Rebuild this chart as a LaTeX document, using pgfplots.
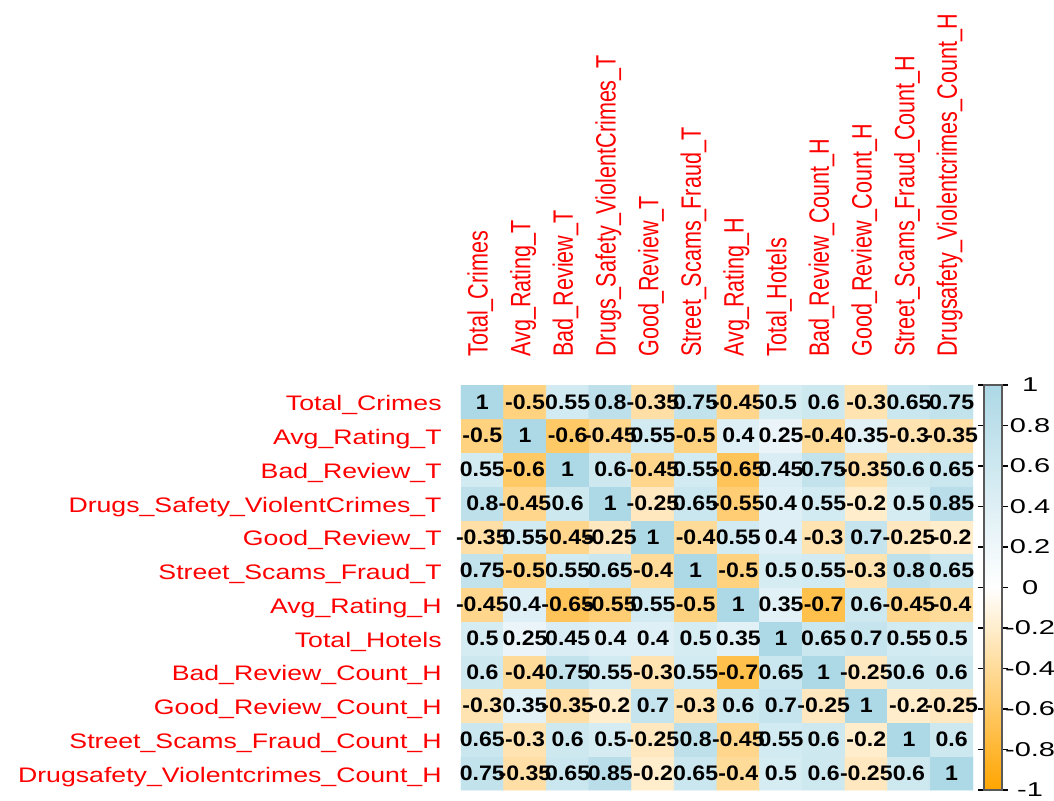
\documentclass[border=0pt]{standalone}
\usepackage{fontspec}
\usepackage{pgfplots}
\usepackage{pgfplotstable}
\pgfplotsset{compat=1.18}
\setmainfont{Liberation Sans}
\newfontfamily\rowfont[FakeStretch=1.27]{Liberation Sans}
\newfontfamily\colfont[FakeStretch=0.77]{Liberation Sans}
\newfontfamily\cellfont[FakeStretch=1.1]{Liberation Sans}
\newfontfamily\barfont[FakeStretch=1.45]{Liberation Sans}

% correlation matrix: x = column, y = 11 - row (Total_Crimes on top)
\pgfplotstableread{
x y c
0 0 0.75
1 0 -0.35
2 0 0.65
3 0 0.85
4 0 -0.2
5 0 0.65
6 0 -0.4
7 0 0.5
8 0 0.6
9 0 -0.25
10 0 0.6
11 0 1
0 1 0.65
1 1 -0.3
2 1 0.6
3 1 0.5
4 1 -0.25
5 1 0.8
6 1 -0.45
7 1 0.55
8 1 0.6
9 1 -0.2
10 1 1
11 1 0.6
0 2 -0.3
1 2 0.35
2 2 -0.35
3 2 -0.2
4 2 0.7
5 2 -0.3
6 2 0.6
7 2 0.7
8 2 -0.25
9 2 1
10 2 -0.2
11 2 -0.25
0 3 0.6
1 3 -0.4
2 3 0.75
3 3 0.55
4 3 -0.3
5 3 0.55
6 3 -0.7
7 3 0.65
8 3 1
9 3 -0.25
10 3 0.6
11 3 0.6
0 4 0.5
1 4 0.25
2 4 0.45
3 4 0.4
4 4 0.4
5 4 0.5
6 4 0.35
7 4 1
8 4 0.65
9 4 0.7
10 4 0.55
11 4 0.5
0 5 -0.45
1 5 0.4
2 5 -0.65
3 5 -0.55
4 5 0.55
5 5 -0.5
6 5 1
7 5 0.35
8 5 -0.7
9 5 0.6
10 5 -0.45
11 5 -0.4
0 6 0.75
1 6 -0.5
2 6 0.55
3 6 0.65
4 6 -0.4
5 6 1
6 6 -0.5
7 6 0.5
8 6 0.55
9 6 -0.3
10 6 0.8
11 6 0.65
0 7 -0.35
1 7 0.55
2 7 -0.45
3 7 -0.25
4 7 1
5 7 -0.4
6 7 0.55
7 7 0.4
8 7 -0.3
9 7 0.7
10 7 -0.25
11 7 -0.2
0 8 0.8
1 8 -0.45
2 8 0.6
3 8 1
4 8 -0.25
5 8 0.65
6 8 -0.55
7 8 0.4
8 8 0.55
9 8 -0.2
10 8 0.5
11 8 0.85
0 9 0.55
1 9 -0.6
2 9 1
3 9 0.6
4 9 -0.45
5 9 0.55
6 9 -0.65
7 9 0.45
8 9 0.75
9 9 -0.35
10 9 0.6
11 9 0.65
0 10 -0.5
1 10 1
2 10 -0.6
3 10 -0.45
4 10 0.55
5 10 -0.5
6 10 0.4
7 10 0.25
8 10 -0.4
9 10 0.35
10 10 -0.3
11 10 -0.35
0 11 1
1 11 -0.5
2 11 0.55
3 11 0.8
4 11 -0.35
5 11 0.75
6 11 -0.45
7 11 0.5
8 11 0.6
9 11 -0.3
10 11 0.65
11 11 0.75
}\corrdata

\begin{document}
\begin{tikzpicture}
\begin{axis}[
  at={(0,0)}, anchor=south west,
  scale only axis, width=256pt, height=202.5pt,
  xmin=-0.5, xmax=11.5, ymin=-0.5, ymax=11.5,
  colormap={corr}{rgb255=(255,165,0) rgb255=(255,255,255) rgb255=(173,216,230)},
  point meta min=-1, point meta max=1,
  xtick={0,...,11}, ytick={0,...,11},
  xticklabels={Total\_Crimes, Avg\_Rating\_T, Bad\_Review\_T,
    Drugs\_Safety\_ViolentCrimes\_T, Good\_Review\_T, Street\_Scams\_Fraud\_T,
    Avg\_Rating\_H, Total\_Hotels, Bad\_Review\_Count\_H, Good\_Review\_Count\_H,
    Street\_Scams\_Fraud\_Count\_H, Drugsafety\_Violentcrimes\_Count\_H},
  yticklabels={Drugsafety\_Violentcrimes\_Count\_H, Street\_Scams\_Fraud\_Count\_H,
    Good\_Review\_Count\_H, Bad\_Review\_Count\_H, Total\_Hotels, Avg\_Rating\_H,
    Street\_Scams\_Fraud\_T, Good\_Review\_T, Drugs\_Safety\_ViolentCrimes\_T,
    Bad\_Review\_T, Avg\_Rating\_T, Total\_Crimes},
  xticklabel pos=upper,
  axis line style={draw=none},
  major tick length=0pt,
  xticklabel style={rotate=90, anchor=mid west, inner sep=0pt, text=red,
    font=\colfont\fontsize{14pt}{16pt}\selectfont},
  xticklabel shift=14pt,
  yticklabel style={anchor=base east, inner sep=0pt, yshift=-4.5pt, text=red,
    font=\rowfont\fontsize{10.5pt}{12pt}\selectfont},
  yticklabel shift=9.5pt,
  colorbar,
  colorbar style={
    at={(parent axis.north east)}, anchor=north west, xshift=-3pt,
    scale only axis, width=9pt, height=202.5pt,
    ytick={-1,-0.8,-0.6,-0.4,-0.2,0,0.2,0.4,0.6,0.8,1},
    yticklabels={-1,-0.8,-0.6,-0.4,-0.2,0,0.2,0.4,0.6,0.8,1},
    yticklabel style={anchor=center, inner sep=0pt,
      font=\barfont\fontsize{10pt}{12pt}\selectfont},
    yticklabel shift=11pt,
    axis line style={draw=gray!70!black, line width=0.6pt},
    major tick length=3pt, tick align=outside,
    tick style={draw=black, line width=0.6pt},
  },
]
\addplot[matrix plot*, mesh/cols=12, point meta=explicit, draw=none]
  table[x=x, y=y, meta=c] {\corrdata};
\addplot[only marks, mark=none, point meta=explicit symbolic,
  nodes near coords,
  nodes near coords style={anchor=center, inner sep=0pt, text=black,
    font=\cellfont\bfseries\fontsize{10.5pt}{12pt}\selectfont}]
  table[x=x, y=y, meta=c] {\corrdata};
\end{axis}
\pgfresetboundingbox
\useasboundingbox (-230.5pt,-5pt) rectangle (296.5pt,395pt);
\end{tikzpicture}
\end{document}
